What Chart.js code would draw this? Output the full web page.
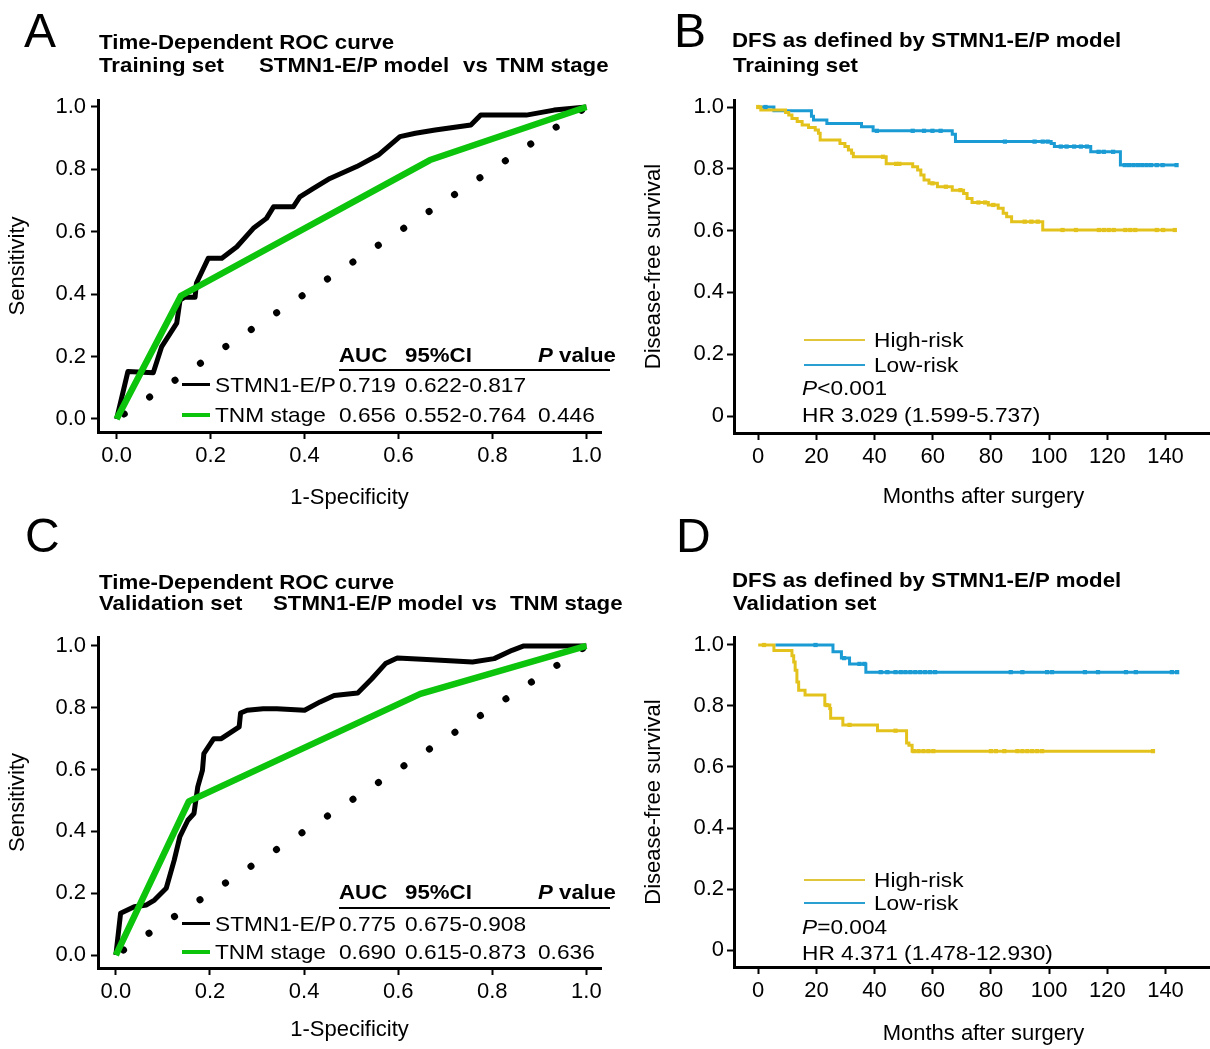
<!DOCTYPE html>
<html><head><meta charset="utf-8">
<script src="https://cdn.jsdelivr.net/npm/chart.js@4"></script>
<style>
html,body{margin:0;padding:0;background:#fff;}
#fig{position:relative;width:1210px;height:1049px;overflow:hidden;background:#fff;font-family:'Liberation Sans',Arial,sans-serif;color:#000;}
canvas{position:absolute;}
.t{position:absolute;white-space:nowrap;font-size:21px;line-height:24px;height:24px;transform:scaleX(1.08);transform-origin:0 50%;}
.b{font-weight:bold;transform:scaleX(1.06);}
.L{position:absolute;font-size:48px;line-height:48px;}
.ln{position:absolute;}
</style></head>
<body>
<div id="fig">
<canvas id="cA" width="610" height="520" style="left:0;top:0"></canvas>
<canvas id="cB" width="627" height="520" style="left:610px;top:0"></canvas>
<canvas id="cC" width="610" height="529" style="left:0;top:520px"></canvas>
<canvas id="cD" width="627" height="529" style="left:610px;top:520px"></canvas>

<div class="L" style="left:24px;top:7px">A</div>
<div class="L" style="left:674px;top:7px">B</div>
<div class="L" style="left:25px;top:512px">C</div>
<div class="L" style="left:676px;top:512px">D</div>

<!-- Panel A titles -->
<div class="t b" style="left:99px;top:30px">Time-Dependent ROC curve</div>
<div class="t b" style="left:99px;top:53px">Training set</div>
<div class="t b" style="left:259px;top:53px">STMN1-E/P model</div>
<div class="t b" style="left:463px;top:53px">vs</div>
<div class="t b" style="left:496px;top:53px">TNM stage</div>
<!-- Panel A table -->
<div class="t b" style="left:339px;top:343px">AUC</div>
<div class="t b" style="left:405px;top:343px">95%CI</div>
<div class="t b" style="left:538px;top:343px"><i>P</i> value</div>
<div class="ln" style="left:339px;top:369px;width:271px;height:2px;background:#000"></div>
<div class="ln" style="left:182px;top:383px;width:28px;height:3px;background:#000"></div>
<div class="t" style="left:215px;top:373px">STMN1-E/P</div>
<div class="t" style="left:339px;top:373px">0.719</div>
<div class="t" style="left:405px;top:373px">0.622-0.817</div>
<div class="ln" style="left:182px;top:413px;width:28px;height:4px;background:#0dc40d"></div>
<div class="t" style="left:215px;top:403px">TNM stage</div>
<div class="t" style="left:339px;top:403px">0.656</div>
<div class="t" style="left:405px;top:403px">0.552-0.764</div>
<div class="t" style="left:538px;top:403px">0.446</div>

<!-- Panel B titles / legend -->
<div class="t b" style="left:732px;top:28px">DFS as defined by STMN1-E/P model</div>
<div class="t b" style="left:733px;top:53px">Training set</div>
<div class="ln" style="left:804px;top:339px;width:61px;height:2px;background:#e2c63a"></div>
<div class="t" style="left:874px;top:328px">High-risk</div>
<div class="ln" style="left:804px;top:364px;width:61px;height:2px;background:#2a9fd2"></div>
<div class="t" style="left:874px;top:353px">Low-risk</div>
<div class="t" style="left:802px;top:376px"><i>P</i>&lt;0.001</div>
<div class="t" style="left:802px;top:403px">HR 3.029 (1.599-5.737)</div>

<!-- Panel C titles / table -->
<div class="t b" style="left:99px;top:570px">Time-Dependent ROC curve</div>
<div class="t b" style="left:99px;top:591px">Validation set</div>
<div class="t b" style="left:273px;top:591px">STMN1-E/P model</div>
<div class="t b" style="left:472px;top:591px">vs</div>
<div class="t b" style="left:510px;top:591px">TNM stage</div>
<div class="t b" style="left:339px;top:880px">AUC</div>
<div class="t b" style="left:405px;top:880px">95%CI</div>
<div class="t b" style="left:538px;top:880px"><i>P</i> value</div>
<div class="ln" style="left:339px;top:907px;width:271px;height:2px;background:#000"></div>
<div class="ln" style="left:182px;top:922px;width:28px;height:3px;background:#000"></div>
<div class="t" style="left:215px;top:912px">STMN1-E/P</div>
<div class="t" style="left:339px;top:912px">0.775</div>
<div class="t" style="left:405px;top:912px">0.675-0.908</div>
<div class="ln" style="left:182px;top:950px;width:28px;height:4px;background:#0dc40d"></div>
<div class="t" style="left:215px;top:940px">TNM stage</div>
<div class="t" style="left:339px;top:940px">0.690</div>
<div class="t" style="left:405px;top:940px">0.615-0.873</div>
<div class="t" style="left:538px;top:940px">0.636</div>

<!-- Panel D titles / legend -->
<div class="t b" style="left:732px;top:568px">DFS as defined by STMN1-E/P model</div>
<div class="t b" style="left:733px;top:591px">Validation set</div>
<div class="ln" style="left:804px;top:879px;width:61px;height:2px;background:#e2c63a"></div>
<div class="t" style="left:874px;top:868px">High-risk</div>
<div class="ln" style="left:804px;top:902px;width:61px;height:2px;background:#2a9fd2"></div>
<div class="t" style="left:874px;top:891px">Low-risk</div>
<div class="t" style="left:802px;top:915px"><i>P</i>=0.004</div>
<div class="t" style="left:802px;top:941px">HR 4.371 (1.478-12.930)</div>
</div>

<script>
// ---------- data ----------
const rocTicks = [0, 0.2, 0.4, 0.6, 0.8, 1.0];
const rocTickLabels = ['0.0', '0.2', '0.4', '0.6', '0.8', '1.0'];
const kmXTicks = [0, 20, 40, 60, 80, 100, 120, 140];
const kmXTickLabels = ['0', '20', '40', '60', '80', '100', '120', '140'];
const kmYTicks = [0, 0.2, 0.4, 0.6, 0.8, 1.0];
const kmYTickLabels = ['0', '0.2', '0.4', '0.6', '0.8', '1.0'];

const diagX = [0, 1];
const diagY = [0, 1];

// Panel A: training set ROC
const aStmnX = [0, 0.024, 0.078, 0.096, 0.128, 0.135, 0.144, 0.167, 0.17, 0.195, 0.224, 0.256, 0.291, 0.319, 0.334, 0.376, 0.39, 0.419, 0.454, 0.511, 0.557, 0.603, 0.636, 0.678, 0.754, 0.775, 0.805, 0.872, 0.931, 1.0];
const aStmnY = [0, 0.152, 0.148, 0.232, 0.307, 0.381, 0.39, 0.39, 0.436, 0.515, 0.515, 0.552, 0.611, 0.643, 0.68, 0.68, 0.712, 0.739, 0.771, 0.809, 0.846, 0.905, 0.916, 0.926, 0.942, 0.974, 0.974, 0.974, 0.99, 1.0];
const aTnmX = [0, 0.137, 0.667, 1.0];
const aTnmY = [0, 0.395, 0.83, 1.0];

// Panel C: validation set ROC
const cStmnX = [0, 0.01, 0.039, 0.065, 0.082, 0.107, 0.124, 0.136, 0.153, 0.166, 0.174, 0.184, 0.187, 0.208, 0.224, 0.262, 0.265, 0.279, 0.313, 0.342, 0.401, 0.434, 0.464, 0.514, 0.544, 0.573, 0.598, 0.661, 0.758, 0.804, 0.842, 0.867, 1.0];
const cStmnY = [0, 0.135, 0.156, 0.162, 0.178, 0.216, 0.307, 0.383, 0.436, 0.458, 0.544, 0.598, 0.652, 0.70, 0.70, 0.738, 0.783, 0.792, 0.797, 0.797, 0.792, 0.819, 0.84, 0.848, 0.894, 0.943, 0.961, 0.956, 0.948, 0.959, 0.986, 1.0, 1.0];
const cTnmX = [0, 0.155, 0.647, 1.0];
const cTnmY = [0, 0.497, 0.845, 1.0];

// Panel B: training set DFS (event times, survival after event)
const bHighT = [0, 0.9, 9.4, 10.5, 11.6, 13.4, 15.1, 17.3, 19.6, 20.7, 21.3, 28.1, 29.8, 31.0, 32.1, 32.7, 44.0, 53.1, 54.8, 55.9, 57.0, 58.7, 61.6, 66.7, 70.6, 71.8, 73.5, 79.1, 82.5, 84.2, 85.4, 87.1, 97.8, 143.2];
const bHighS = [1.0, 0.99, 0.982, 0.974, 0.963, 0.953, 0.942, 0.934, 0.926, 0.915, 0.893, 0.882, 0.872, 0.861, 0.85, 0.839, 0.816, 0.807, 0.796, 0.78, 0.764, 0.753, 0.742, 0.731, 0.72, 0.704, 0.691, 0.683, 0.672, 0.656, 0.645, 0.629, 0.602, 0.602];
const bHighCensor = [0, 42.9, 47.4, 48.5, 59.9, 64.5, 69.5, 75.7, 78.0, 80.8, 91.6, 93.9, 96.1, 104.6, 109.2, 117.1, 118.8, 120.5, 122.2, 126.2, 127.9, 129.6, 137.0, 139.2, 143.2];
const bLowT = [0, 5.4, 18.3, 19.0, 23.6, 35.5, 39.5, 66.7, 67.8, 100.7, 101.8, 114.3, 124.5, 143.8];
const bLowS = [1.0, 0.988, 0.97, 0.958, 0.947, 0.936, 0.923, 0.912, 0.888, 0.882, 0.872, 0.855, 0.812, 0.812];
const bLowCensor = [2.5, 40.8, 53.1, 57.0, 59.9, 62.7, 84.8, 95.0, 97.8, 99.5, 104.0, 106.0, 108.6, 110.9, 113.0, 117.0, 118.8, 122.0, 126.0, 127.5, 129.0, 130.5, 132.0, 133.5, 135.0, 137.0, 139.0, 143.8];

// Panel D: validation set DFS
const dHighT = [0, 5.4, 11.6, 12.2, 12.7, 13.3, 13.9, 16.1, 22.9, 24.6, 24.9, 29.1, 41.0, 51.0, 51.8, 52.9, 135.7];
const dHighS = [1.0, 0.982, 0.965, 0.944, 0.917, 0.879, 0.852, 0.836, 0.803, 0.792, 0.76, 0.738, 0.719, 0.679, 0.671, 0.652, 0.652];
const dHighCensor = [2.0, 23.5, 31.4, 47.2, 53.5, 55.1, 56.8, 58.5, 60.2, 80.0, 81.7, 84.6, 89.1, 90.8, 92.5, 94.2, 95.9, 97.6, 135.7];
const dLowT = [5.9, 25.7, 28.6, 31.4, 37.0, 144.0];
const dLowS = [1.0, 0.978, 0.957, 0.938, 0.911, 0.911];
const dLowCensor = [19.7, 29.5, 34.8, 36.5, 42.1, 44.4, 47.2, 49.0, 50.6, 52.3, 54.0, 55.7, 57.4, 59.1, 60.8, 86.8, 90.8, 99.3, 101.0, 112.3, 116.8, 126.4, 129.8, 142.2, 144.0];

// ---------- styles ----------
const FONT = {family: "'Liberation Sans', Arial, sans-serif", size: 22};
const BLACK = '#000000', GREEN = '#0dc40d', YELLOW = '#e4c21c', BLUE = '#1a9bd4';

function pts(xs, ys) { return xs.map((x, i) => ({x: x, y: ys[i]})); }
function stepAt(ts, ss, t) { let s = ss[0]; for (let i = 0; i < ts.length; i++) { if (ts[i] <= t) s = ss[i]; } return s; }
function censorPts(cs, ts, ss) { return cs.map(t => ({x: t, y: stepAt(ts, ss, t)})); }

function axisX(g, ticks, labels, title) {
  return {
    type: 'linear', position: 'bottom', min: g.xmin, max: g.xmax,
    afterBuildTicks: s => { s.ticks = ticks.map(v => ({value: v})); },
    afterFit: s => { s.height = g.xh; },
    ticks: {callback: (v, i) => labels[i], font: FONT, color: '#000', padding: 4, maxRotation: 0, minRotation: 0, autoSkip: false},
    grid: {display: true, drawOnChartArea: false, drawTicks: true, tickLength: 7, tickColor: '#000', tickWidth: 2},
    border: {display: true, color: '#000', width: 3},
    title: {display: true, text: title, font: FONT, color: '#000', padding: {top: 0, bottom: g.xpb}}
  };
}
function axisY(g, ticks, labels, title) {
  return {
    type: 'linear', position: 'left', min: g.ymin, max: g.ymax,
    afterBuildTicks: s => { s.ticks = ticks.map(v => ({value: v})); },
    afterFit: s => { s.width = g.yw; },
    ticks: {callback: (v, i) => labels[i], font: FONT, color: '#000', padding: g.ypad, autoSkip: false},
    grid: {display: true, drawOnChartArea: false, drawTicks: true, tickLength: 7, tickColor: '#000', tickWidth: 2},
    border: {display: true, color: '#000', width: 3},
    title: {display: true, text: title, font: FONT, color: '#000', padding: {top: g.ypt, bottom: 0}}
  };
}
function baseOpts(g, xs, ys) {
  return {
    responsive: false, animation: false, devicePixelRatio: 1,
    layout: {padding: {left: 0, top: g.top, right: g.right, bottom: 0}},
    plugins: {legend: {display: false}, tooltip: {enabled: false}},
    elements: {line: {tension: 0}, point: {radius: 0}},
    scales: {x: xs, y: ys}
  };
}

function makeROC(id, g, sx, sy, tx, ty) {
  new Chart(document.getElementById(id), {
    type: 'line',
    data: {datasets: [
      {label: 'TNM stage', data: pts(tx, ty), borderColor: GREEN, borderWidth: 6.5, pointRadius: 0, fill: false, borderJoinStyle: 'round'},
      {label: 'STMN1-E/P', data: pts(sx, sy), borderColor: BLACK, borderWidth: 5, pointRadius: 0, fill: false, borderJoinStyle: 'round'},
      {label: 'Reference', data: pts(diagX, diagY), borderColor: BLACK, borderWidth: 7, borderDash: [0.1, 30.4], borderDashOffset: 21.4, borderCapStyle: 'round', pointRadius: 0, fill: false}
    ]},
    options: baseOpts(g, axisX(g, rocTicks, rocTickLabels, '1-Specificity'), axisY(g, rocTicks, rocTickLabels, 'Sensitivity'))
  });
}

function makeKM(id, g, hT, hS, hC, lT, lS, lC) {
  new Chart(document.getElementById(id), {
    type: 'line',
    data: {datasets: [
      {label: 'High-risk censored', data: censorPts(hC, hT, hS), showLine: false, pointStyle: 'rect', pointRadius: 3, pointBackgroundColor: YELLOW, pointBorderWidth: 0},
      {label: 'Low-risk censored', data: censorPts(lC, lT, lS), showLine: false, pointStyle: 'rect', pointRadius: 3, pointBackgroundColor: BLUE, pointBorderWidth: 0},
      {label: 'High-risk', data: pts(hT, hS), borderColor: YELLOW, borderWidth: 3, stepped: true, pointRadius: 0, fill: false},
      {label: 'Low-risk', data: pts(lT, lS), borderColor: BLUE, borderWidth: 3, stepped: true, pointRadius: 0, fill: false}
    ]},
    options: baseOpts(g, axisX(g, kmXTicks, kmXTickLabels, 'Months after surgery'), axisY(g, kmYTicks, kmYTickLabels, 'Disease-free survival'))
  });
}

makeROC('cA', {top: 100, right: 9, xh: 88, yw: 98, xmin: -0.0396, xmax: 1.031, ymin: -0.0417, ymax: 1.0224, xpb: 9, ypt: 5, ypad: 5}, aStmnX, aStmnY, aTnmX, aTnmY);
makeROC('cC', {top: 117, right: 9, xh: 81, yw: 98, xmin: -0.038, xmax: 1.031, ymin: -0.042, ymax: 1.029, xpb: 6, ypt: 5, ypad: 5}, cStmnX, cStmnY, cTnmX, cTnmY);
makeKM('cB', {top: 100, right: 0, xh: 87, yw: 124, xmin: -8.32, xmax: 163.2, ymin: -0.055, ymax: 1.0227, xpb: 10, ypt: 31, ypad: 3}, bHighT, bHighS, bHighCensor, bLowT, bLowS, bLowCensor);
makeKM('cD', {top: 117, right: 0, xh: 82, yw: 124, xmin: -8.32, xmax: 163.2, ymin: -0.0557, ymax: 1.0262, xpb: 2, ypt: 31, ypad: 3}, dHighT, dHighS, dHighCensor, dLowT, dLowS, dLowCensor);
</script>
</body></html>
